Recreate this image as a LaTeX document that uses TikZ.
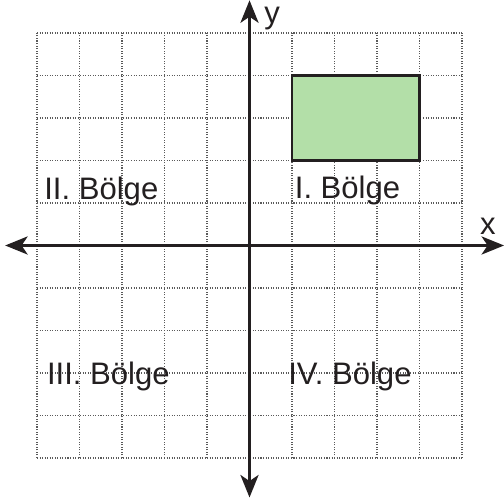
\documentclass[tikz,border=0pt]{standalone}
\usepackage{fontspec}
\setmainfont{Liberation Sans}
\usetikzlibrary{arrows.meta}
\definecolor{quadGreen}{HTML}{B3DFA8}
\definecolor{gridGray}{HTML}{5A5A5A}
\definecolor{inkBlack}{HTML}{231F20}
\tikzset{
  every node/.style={font=\fontsize{20.8}{24}\selectfont},
  axis/.style={{Stealth[length=15pt, width=12pt, inset=4pt]}-{Stealth[length=15pt, width=12pt, inset=4pt]}, line width=2.4pt, inkBlack},
  gridline/.style={gridGray, line width=0.7pt, densely dotted},
  area/.style={draw=inkBlack, fill=quadGreen, line width=1.6pt},
  lbl/.style={anchor=base west, inner sep=0pt, text=inkBlack},
}

\begin{document}
\begin{tikzpicture}
  \useasboundingbox (-5.871,-5.965) rectangle (5.988,5.776);
  % the grid
  \draw[gridline] (-5,-5) grid (5,5);
  % the shaded area
  \draw[area] (1,2) rectangle (4,4);
  % axes
  \coordinate (xl) at (-5.75,0);
  \coordinate (xr) at (5.99,0);
  \coordinate (yb) at (0,-5.93);
  \coordinate (yt) at (0,5.77);
  \draw[axis] (xl) -- (xr);
  \draw[axis] (yb) -- (yt);
  \node[lbl] (xlab) at (5.42,0.247) {x};
  \node[lbl] (ylab) at (0.34,5.22) {y};
  % quadrant names
  \node[lbl] (q1) at (1.06,1.10) {I. Bölge};
  \node[lbl] (q2) at (-4.835,1.09) {II. Bölge};
  \node[lbl] (q3) at (-4.77,-3.27) {III. Bölge};
  \node[lbl] (q4) at (0.906,-3.28) {IV. Bölge};
\end{tikzpicture}
\end{document}
